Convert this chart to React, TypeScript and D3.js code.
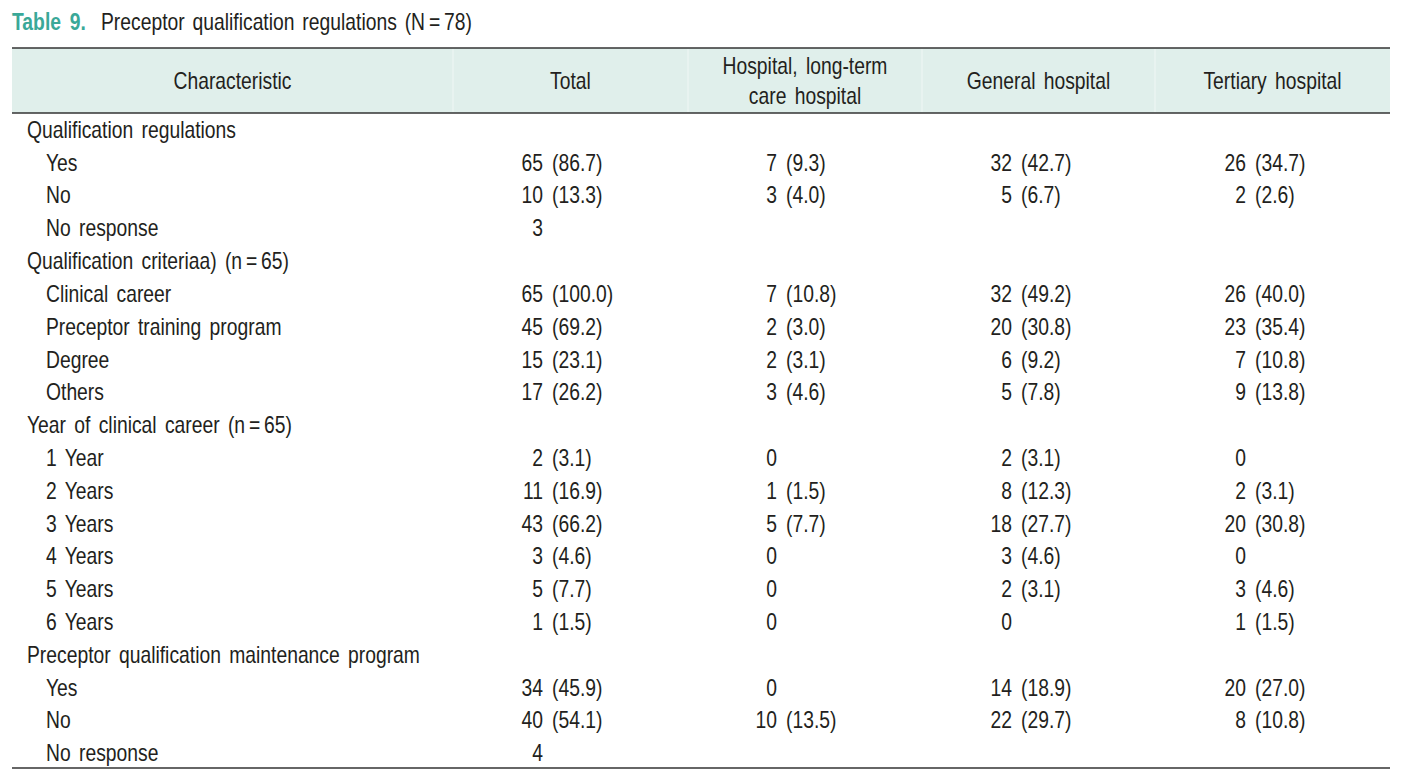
import React from "react";
import * as d3 from "d3";

const titleLabel = "Table 9.";
const titleText = "Preceptor qualification regulations (N\u2009=\u200978)";

const columnHeaders = [
  ["Characteristic"],
  ["Total"],
  ["Hospital, long-term", "care hospital"],
  ["General hospital"],
  ["Tertiary hospital"],
];

const rowLabels = [
  "Qualification regulations",
  "Yes",
  "No",
  "No response",
  "Qualification criteriaa) (n\u2009=\u200965)",
  "Clinical career",
  "Preceptor training program",
  "Degree",
  "Others",
  "Year of clinical career (n\u2009=\u200965)",
  "1 Year",
  "2 Years",
  "3 Years",
  "4 Years",
  "5 Years",
  "6 Years",
  "Preceptor qualification maintenance program",
  "Yes",
  "No",
  "No response",
];
const rowLevels = [0, 1, 1, 1, 0, 1, 1, 1, 1, 0, 1, 1, 1, 1, 1, 1, 0, 1, 1, 1];

type V = number | null;
const totalN: V[] = [null, 65, 10, 3, null, 65, 45, 15, 17, null, 2, 11, 43, 3, 5, 1, null, 34, 40, 4];
const totalPct: (string | null)[] = [null, "86.7", "13.3", null, null, "100.0", "69.2", "23.1", "26.2", null, "3.1", "16.9", "66.2", "4.6", "7.7", "1.5", null, "45.9", "54.1", null];
const hospitalN: V[] = [null, 7, 3, null, null, 7, 2, 2, 3, null, 0, 1, 5, 0, 0, 0, null, 0, 10, null];
const hospitalPct: (string | null)[] = [null, "9.3", "4.0", null, null, "10.8", "3.0", "3.1", "4.6", null, null, "1.5", "7.7", null, null, null, null, null, "13.5", null];
const generalN: V[] = [null, 32, 5, null, null, 32, 20, 6, 5, null, 2, 8, 18, 3, 2, 0, null, 14, 22, null];
const generalPct: (string | null)[] = [null, "42.7", "6.7", null, null, "49.2", "30.8", "9.2", "7.8", null, "3.1", "12.3", "27.7", "4.6", "3.1", null, null, "18.9", "29.7", null];
const tertiaryN: V[] = [null, 26, 2, null, null, 26, 23, 7, 9, null, 0, 2, 20, 0, 3, 1, null, 20, 8, null];
const tertiaryPct: (string | null)[] = [null, "34.7", "2.6", null, null, "40.0", "35.4", "10.8", "13.8", null, null, "3.1", "30.8", null, "4.6", "1.5", null, "27.0", "10.8", null];

const dataCols = [
  { n: totalN, pct: totalPct },
  { n: hospitalN, pct: hospitalPct },
  { n: generalN, pct: generalPct },
  { n: tertiaryN, pct: tertiaryPct },
];

const W = 1410;
const H = 771;
const FONT = "'Liberation Sans', Arial, sans-serif";
const TEXT = "#231f20";
const FS = 23;
const SX = 0.84;

function T(props: {
  x: number;
  y: number;
  anchor?: "start" | "middle" | "end";
  children: React.ReactNode;
  ws?: number;
  weight?: string;
  fill?: string;
}) {
  const { x, y, anchor = "start", children, ws = 3.5, weight = "normal", fill = TEXT } = props;
  return (
    <text
      transform={`translate(${x},${y}) scale(${SX},1)`}
      textAnchor={anchor}
      fontSize={FS}
      fontWeight={weight}
      fill={fill}
      style={{ wordSpacing: ws + "px" }}
    >
      {children}
    </text>
  );
}

export default function App() {
  const left = 12;
  const right = 1390;
  const colEdges = [left, 453, 688, 922, 1155, right];
  const countRight = [543, 777, 1012, 1246];

  const y = d3.scaleLinear().domain([0, rowLabels.length - 1]).range([130, 753.5]);
  const baseOff = 7.8;

  return (
    <div style={{ position: "absolute", left: 0, top: 0 }}>
      <svg width={W} height={H} style={{ display: "block", background: "#fff" }} fontFamily={FONT}>
        <T x={12} y={30} weight="bold" fill="#3aa898" ws={4}>{titleLabel}</T>
        <T x={101} y={30} ws={3}>{titleText}</T>

        <rect x={left} y={48} width={right - left} height={65} fill="#e0efeb" />
        {colEdges.slice(1, -1).map((x, i) => (
          <line key={i} x1={x} x2={x} y1={49} y2={112} stroke="#ebf5f2" strokeWidth={1.5} />
        ))}
        <line x1={left} x2={right} y1={48} y2={48} stroke="#333" strokeWidth={1.5} />
        <line x1={left} x2={right} y1={113} y2={113} stroke="#333" strokeWidth={1.5} />

        {columnHeaders.map((lines, ci) => {
          const cx = (colEdges[ci] + colEdges[ci + 1]) / 2;
          const cy = 81;
          const lh = 30;
          return lines.map((t, li) => (
            <T key={ci + "-" + li} x={cx} y={cy + (li - (lines.length - 1) / 2) * lh + baseOff} anchor="middle">
              {t}
            </T>
          ));
        })}

        {rowLabels.map((label, i) => (
          <T key={"l" + i} x={rowLevels[i] === 0 ? 27 : 46} y={y(i) + baseOff}>
            {label}
          </T>
        ))}

        {dataCols.map((col, ci) =>
          col.n.map((n, i) =>
            n === null ? null : (
              <g key={"c" + ci + "-" + i}>
                <T x={countRight[ci]} y={y(i) + baseOff} anchor="end">
                  {n}
                </T>
                {col.pct[i] !== null && (
                  <T x={countRight[ci] + 9} y={y(i) + baseOff}>
                    {"(" + col.pct[i] + ")"}
                  </T>
                )}
              </g>
            )
          )
        )}

        <line x1={left} x2={right} y1={768} y2={768} stroke="#333" strokeWidth={1.5} />
      </svg>
    </div>
  );
}
